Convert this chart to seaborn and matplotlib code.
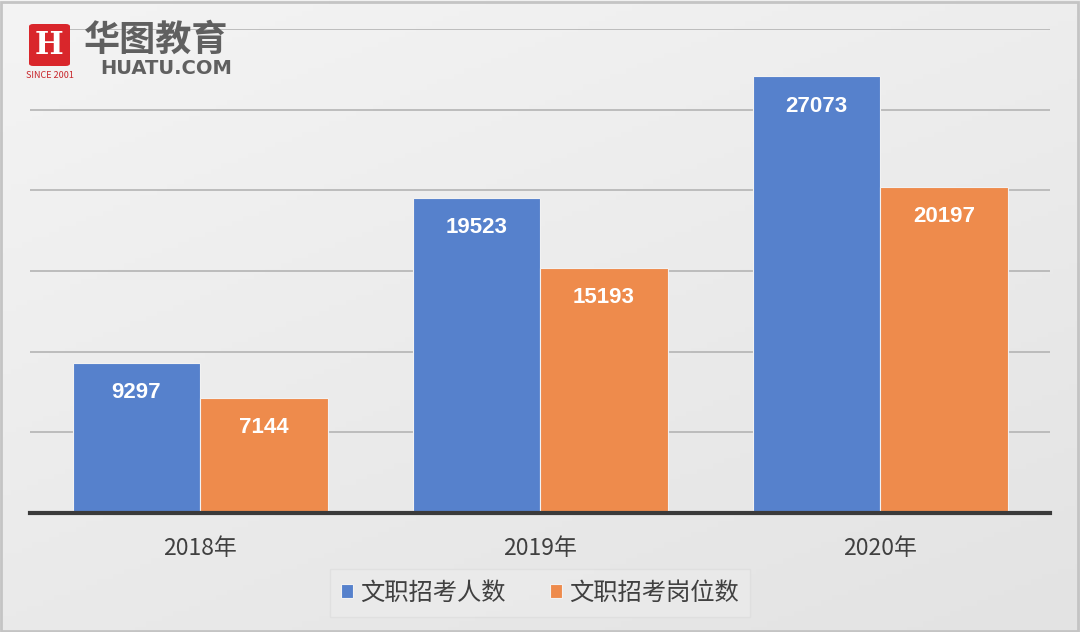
import numpy as np
import pandas as pd
import matplotlib
matplotlib.use("Agg")
import matplotlib.pyplot as plt
import seaborn as sns
from matplotlib.patches import FancyBboxPatch, Rectangle

years = ["2018年", "2019年", "2020年"]
series_names = ["文职招考人数", "文职招考岗位数"]
applicants = [9297, 19523, 27073]
positions = [7144, 15193, 20197]
bar_colors = ["#5681cc", "#ee8b4c"]

df = pd.DataFrame({
    "year": years * 2,
    "series": [series_names[0]] * 3 + [series_names[1]] * 3,
    "value": applicants + positions,
})

sns.set_theme(style="white")
plt.rcParams["font.family"] = ["Noto Sans CJK SC", "DejaVu Sans"]

fig = plt.figure(figsize=(10.8, 6.32), dpi=100)

# light grey gradient background
bg = fig.add_axes([0, 0, 1, 1], zorder=-10)
gx = np.linspace(0, 1, 200)
gy = np.linspace(0, 1, 120)
grad = 0.6 * gy[:, None] + 0.4 * gx[None, :]
bg.imshow(grad, cmap=matplotlib.colors.LinearSegmentedColormap.from_list("g", ["#f4f4f4", "#e3e3e3"]),
          aspect="auto", extent=[0, 1, 0, 1], origin="upper")
bg.add_patch(Rectangle((0.001, 0.002), 0.997, 0.995, fill=False, edgecolor="#c4c4c4", lw=2,
                       transform=bg.transAxes))
bg.set_xlim(0, 1)
bg.set_ylim(0, 1)
bg.axis("off")

ax = fig.add_axes([30 / 1080, 119 / 632, 1020 / 1080, 484 / 632])
ax.patch.set_alpha(0)
sns.barplot(data=df, x="year", y="value", hue="series", palette=bar_colors,
            width=0.75, saturation=1, ax=ax, legend=True, zorder=3,
            edgecolor="#f2f2f2", linewidth=0.8)

for c in ax.containers:
    ax.bar_label(c, padding=-29, color="white", fontsize=16, fontweight="bold",
                 family=["Liberation Sans", "DejaVu Sans"])

ax.set_ylim(0, 30000)
ax.set_xlim(-0.5, 2.5)
ax.set_yticks(np.arange(5000, 30001, 5000))
ax.yaxis.grid(True, color="#b4b4b4", lw=1.2, zorder=0)
ax.set_yticklabels([])
ax.tick_params(axis="y", length=0)
ax.tick_params(axis="x", length=0, pad=17, labelsize=16.5, labelcolor="#404040")
ax.set_xlabel("")
ax.set_ylabel("")
for s in ["top", "right", "left"]:
    ax.spines[s].set_visible(False)
ax.spines["bottom"].set_color("#3a3a3a")
ax.spines["bottom"].set_linewidth(3)
ax.spines["bottom"].set_zorder(5)

handles, labels = ax.get_legend_handles_labels()
ax.legend_.remove()
leg = fig.legend(handles, labels, loc="center", bbox_to_anchor=(0.5, 0.062), ncol=2,
                 frameon=True, fancybox=False, fontsize=17.5, handlelength=0.5, handleheight=0.5,
                 handletextpad=0.3, columnspacing=1.8, borderpad=0.45)
leg.get_frame().set_facecolor("#ebebeb")
leg.get_frame().set_edgecolor("#dedede")
for t in leg.get_texts():
    t.set_color("#404040")

# logo
W, H = 1080, 632
fig.patches.append(FancyBboxPatch((29 / W, 1 - 66 / H), 41 / W, 42 / H,
                                  boxstyle="round,pad=0,rounding_size=0.004",
                                  transform=fig.transFigure, facecolor="#d9262b", edgecolor="none", zorder=5))
fig.text(49.5 / W, 1 - 45 / H, "H", color="white", fontsize=22, fontweight="bold",
         ha="center", va="center", family=["DejaVu Serif"], zorder=6)
fig.text(49.5 / W, 1 - 75 / H, "SINCE 2001", color="#c8262b", fontsize=6.5,
         ha="center", va="center", zorder=6)
fig.text(84 / W, 1 - 40 / H, "华图教育", color="#606060", fontsize=26, fontweight="bold",
         ha="left", va="center", zorder=6)
fig.text(100 / W, 1 - 68 / H, "HUATU.COM", color="#606060", fontsize=14, fontweight="bold",
         ha="left", va="center", family=["DejaVu Sans"], zorder=6)

fig.savefig("out.png", dpi=100)
